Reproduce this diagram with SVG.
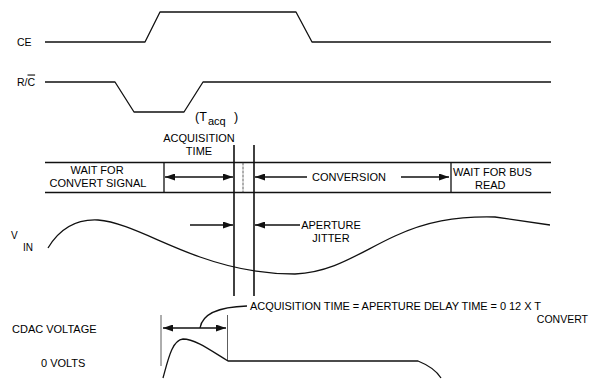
<svg xmlns="http://www.w3.org/2000/svg" width="592" height="379" viewBox="0 0 592 379">
<style>
.t{font-family:"Liberation Sans",Arial,sans-serif;font-size:11px;fill:#000}
.w{fill:none;stroke:#111;stroke-width:1.3;stroke-linejoin:round}
.th{fill:none;stroke:#333;stroke-width:0.8}
.v{fill:none;stroke:#111;stroke-width:1.6}
.a{fill:none;stroke:#111;stroke-width:1.4}
</style>
<defs>
<marker id="ah" viewBox="0 0 10 7" refX="10" refY="3.5" markerUnits="userSpaceOnUse" markerWidth="10" markerHeight="7" orient="auto-start-reverse">
<path d="M0,0 L10,3.5 L0,7 z" fill="#111"/>
</marker>
</defs>
<rect width="592" height="379" fill="#fff"/>

<g id="ce">
<text class="t" x="17" y="45.5" style="font-size:10.5px">CE</text>
<path class="w" d="M45,42 H145 L160,12 H296 L312,42 H551"/>
</g>
<g id="rc">
<text class="t" x="17" y="85.5" style="font-size:10.5px">R/<tspan text-decoration="overline">C</tspan></text>
<path class="w" d="M45,82 H115 L134,112 H184 L203,82 H551"/>
</g>
<g id="tacq">
<text class="t" x="195" y="120.5" style="font-size:12.5px">(T</text>
<text class="t" x="208" y="124.5">acq</text>
<text class="t" x="234" y="120.5" style="font-size:12.5px">)</text>
<text class="t" x="199" y="142" text-anchor="middle">ACQUISITION</text>
<text class="t" x="199" y="155" text-anchor="middle">TIME</text>
</g>
<g id="table">
<path class="w" d="M45,162.5 H551 M45,192.5 H551 M164,162.5 V192.5 M451,162.5 V192.5"/>
<line class="th" x1="243" y1="162.5" x2="243" y2="192.5" stroke-dasharray="3 1"/>
<text class="t" x="97" y="174" text-anchor="middle">WAIT FOR</text>
<text class="t" x="98" y="187" text-anchor="middle">CONVERT SIGNAL</text>
<text class="t" x="312" y="181">CONVERSION</text>
<text class="t" x="453" y="176">WAIT FOR BUS</text>
<text class="t" x="475" y="189">READ</text>
</g>
<g id="vin">
<text class="t" x="11" y="239" style="font-size:10px">V</text>
<text class="t" x="23" y="251" style="font-size:10px">IN</text>
<path class="w" d="M48,248 C60,228 78,219 98,220 C125,222 160,243 200,257 C228,267 258,274 295,274 C335,272 360,252 395,236 C425,222 455,216 495,217 L550,225"/>
<text class="t" x="331" y="229" text-anchor="middle">APERTURE</text>
<text class="t" x="331" y="242" text-anchor="middle">JITTER</text>
</g>
<g id="cdac">
<text class="t" x="12" y="333">CDAC VOLTAGE</text>
<text class="t" x="41" y="367">0 VOLTS</text>
<line class="th" x1="161" y1="315" x2="161" y2="366"/>
<line class="th" x1="227.5" y1="315" x2="227.5" y2="361"/>
<path class="w" d="M163,378 C168,360 172,340 183,339 C195,339 210,350 228,361 H418 C428,365 436,370 441,378"/>
<path class="w" d="M200,328 C202,315 215,307 247,306"/>
<text class="t" x="250" y="310" textLength="291" lengthAdjust="spacing">ACQUISITION TIME = APERTURE DELAY TIME = 0 12 X T</text>
<text class="t" x="588" y="323" text-anchor="end" style="font-size:10.5px">CONVERT</text>
</g>
<g id="connectors">
<line class="v" x1="234" y1="145" x2="234" y2="296"/>
<line class="v" x1="254" y1="145" x2="254" y2="296"/>
<line class="a" x1="165" y1="177" x2="233" y2="177" marker-start="url(#ah)" marker-end="url(#ah)"/>
<line class="a" x1="307" y1="177" x2="255" y2="177" marker-end="url(#ah)"/>
<line class="a" x1="401" y1="177" x2="449" y2="177" marker-end="url(#ah)"/>
<line class="a" x1="190" y1="225" x2="233" y2="225" marker-end="url(#ah)"/>
<line class="a" x1="300" y1="225" x2="255" y2="225" marker-end="url(#ah)"/>
<line class="a" x1="163" y1="328" x2="226" y2="328" marker-start="url(#ah)" marker-end="url(#ah)"/>
</g>
</svg>
